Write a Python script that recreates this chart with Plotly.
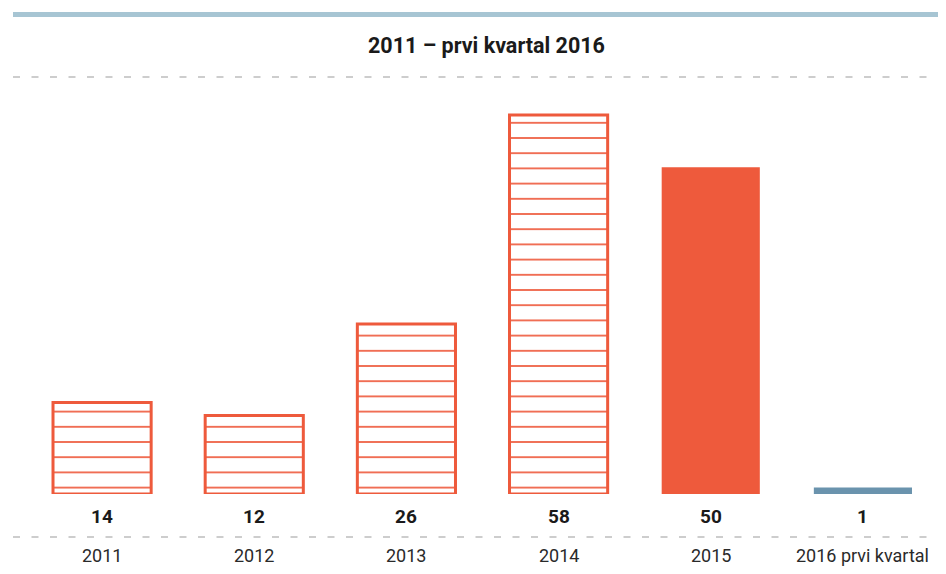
import plotly.graph_objects as go

categories = ["2011", "2012", "2013", "2014", "2015", "2016 prvi kvartal"]
values = [14, 12, 26, 58, 50, 1]
value_labels = ["14", "12", "26", "58", "50", "1"]
hatched = [True, True, True, True, False, False]
title_text = "2011 – prvi kvartal 2016"

ORANGE = "#ee5a3c"
BLUE = "#6a93ad"
solid_colors = {"2015": ORANGE, "2016 prvi kvartal": BLUE}

FONT = "Roboto, 'Open Sans', sans-serif"

# The page body has an 8px margin; figure is placed at (8, 8) in the window.
OFF = 8
W, H = 946 - OFF, 574 - OFF
ml, mr = 26 - OFF, 946 - 939
mt, mb = 100 - OFF, 574 - 494
pw = W - ml - mr
ph = H - mt - mb
base_px = 494  # window px


def px_to_paper_x(px):
    return (px - 26) / pw


def px_to_paper_y(py):
    return (base_px - py) / ph


hx = [c for c, h in zip(categories, hatched) if h]
hy = [v for v, h in zip(values, hatched) if h]
sx = [c for c, h in zip(categories, hatched) if not h]
sy = [v for v, h in zip(values, hatched) if not h]

fig = go.Figure()
fig.add_trace(go.Bar(
    x=hx, y=hy,
    marker=dict(
        color="white",
        line=dict(color=ORANGE, width=3),
        pattern=dict(shape="-", fgcolor=ORANGE, bgcolor="white", fgopacity=1,
                     size=15.2, solidity=0.11, fillmode="replace"),
    ),
    hoverinfo="skip",
))
fig.add_trace(go.Bar(
    x=sx, y=sy,
    marker=dict(color=[solid_colors[c] for c in sx], line=dict(width=0)),
    hoverinfo="skip",
))

dash_style = dict(color="#bdbdbd", width=1.5, dash="7px,11.5px")
shapes = [
    dict(type="line", xref="paper", yref="paper",
         x0=px_to_paper_x(13), x1=px_to_paper_x(946),
         y0=px_to_paper_y(14.5), y1=px_to_paper_y(14.5),
         line=dict(color="#a7c5d3", width=5)),
    dict(type="line", xref="paper", yref="paper",
         x0=px_to_paper_x(13), x1=px_to_paper_x(946),
         y0=px_to_paper_y(77), y1=px_to_paper_y(77), line=dash_style),
    dict(type="line", xref="paper", yref="paper",
         x0=px_to_paper_x(13), x1=px_to_paper_x(946),
         y0=px_to_paper_y(537), y1=px_to_paper_y(537), line=dash_style),
]

annotations = [
    dict(text="<b>" + title_text + "</b>", xref="paper", yref="paper",
         x=px_to_paper_x(486), y=px_to_paper_y(45), xanchor="center", yanchor="middle",
         showarrow=False, font=dict(family=FONT, size=21.5, color="#1a1a1a")),
]
for i, (c, lab) in enumerate(zip(categories, value_labels)):
    annotations.append(dict(text="<b>" + lab + "</b>", x=i, xref="x", yref="paper",
                            y=px_to_paper_y(516), xanchor="center", yanchor="middle",
                            showarrow=False, font=dict(family=FONT, size=19, color="#1a1a1a")))
    annotations.append(dict(text=c, x=i, xref="x", yref="paper",
                            y=px_to_paper_y(555), xanchor="center", yanchor="middle",
                            showarrow=False, font=dict(family=FONT, size=18, color="#2a2a2a")))

fig.update_layout(
    width=W, height=H,
    margin=dict(l=ml, r=mr, t=mt, b=mb, autoexpand=False),
    paper_bgcolor="white", plot_bgcolor="white",
    barmode="overlay",
    bargap=0.355,
    showlegend=False,
    xaxis=dict(type="category", categoryorder="array", categoryarray=categories,
               range=[-0.5, len(categories) - 0.5],
               showticklabels=False, showgrid=False, zeroline=False,
               showline=False, ticks=""),
    yaxis=dict(range=[0, ph / (379 / 58)], showticklabels=False, showgrid=False,
               zeroline=False, showline=False, ticks=""),
    shapes=shapes,
    annotations=annotations,
    font=dict(family=FONT),
)

fig.write_html("out.html")
